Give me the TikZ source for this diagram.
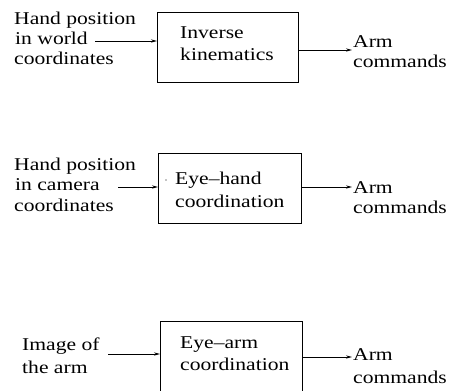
\documentclass[tikz,border=0pt]{standalone}
\usepackage{fontspec}
\usepackage{graphicx}
\setmainfont{Liberation Serif}
\newcommand{\wtxt}[1]{\scalebox{1.2}[1]{#1}}
\usetikzlibrary{arrows.meta}
\begin{document}
\begin{tikzpicture}[x=1pt,y=-1pt,
  txt/.style={anchor=base west,inner sep=0pt,font=\fontsize{18}{20}\selectfont},
  blockbox/.style={draw,line width=0.8pt,anchor=north west,inner sep=0pt},
  arr/.style={line width=0.8pt,-{Stealth[length=6pt,width=3.2pt]}}]
\useasboundingbox (0,0) rectangle (454,390);
\clip (0,0) rectangle (454,390);
% block 1
\node[blockbox,minimum width=141pt,minimum height=70pt] (b1) at (157,12) {};
\node[txt] (b1a) at (180,39) {\wtxt{Inverse}};
\node[txt] (b1b) at (180,61) {\wtxt{kinematics}};
\node[txt] (l1a) at (14,25) {\wtxt{Hand position}};
\node[txt] (l1b) at (15,45) {\wtxt{in world}};
\node[txt] (l1c) at (14,65) {\wtxt{coordinates}};
\node[txt] (r1a) at (353,48) {\wtxt{Arm}};
\node[txt] (r1b) at (353,68) {\wtxt{commands}};
\coordinate (s1) at (95,41);
\coordinate (o1) at (352,50);
\draw[arr] (s1) -- (s1 -| b1.west);
\draw[arr] (b1.east |- o1) -- (o1);
% block 2
\node[blockbox,minimum width=143pt,minimum height=70pt] (b2) at (158,153) {};
\node[txt] (b2a) at (175,184) {\wtxt{Eye--hand}};
\node[txt] (b2b) at (175,207) {\wtxt{coordination}};
\node[txt] (l2a) at (14,170) {\wtxt{Hand position}};
\node[txt] (l2b) at (15,190) {\wtxt{in camera}};
\node[txt] (l2c) at (14,211) {\wtxt{coordinates}};
\node[txt] (r2a) at (353,193) {\wtxt{Arm}};
\node[txt] (r2b) at (353,213) {\wtxt{commands}};
\coordinate (s2) at (118,187);
\coordinate (o2) at (352,187);
\draw[arr] (s2) -- (s2 -| b2.west);
\draw[arr] (b2.east |- o2) -- (o2);
\fill (166,180) circle (0.6pt);
% block 3
\node[blockbox,minimum width=142pt,minimum height=85pt] (b3) at (160,321) {};
\node[txt] (b3a) at (180,348) {\wtxt{Eye--arm}};
\node[txt] (b3b) at (180,370) {\wtxt{coordination}};
\node[txt] (l3a) at (22,350) {\wtxt{Image of}};
\node[txt] (l3b) at (22,373) {\wtxt{the arm}};
\node[txt] (r3a) at (353,360) {\wtxt{Arm}};
\node[txt] (r3b) at (353,383) {\wtxt{commands}};
\coordinate (s3) at (108,354);
\coordinate (o3) at (352,357);
\draw[arr] (s3) -- (s3 -| b3.west);
\draw[arr] (b3.east |- o3) -- (o3);
\end{tikzpicture}
\end{document}
